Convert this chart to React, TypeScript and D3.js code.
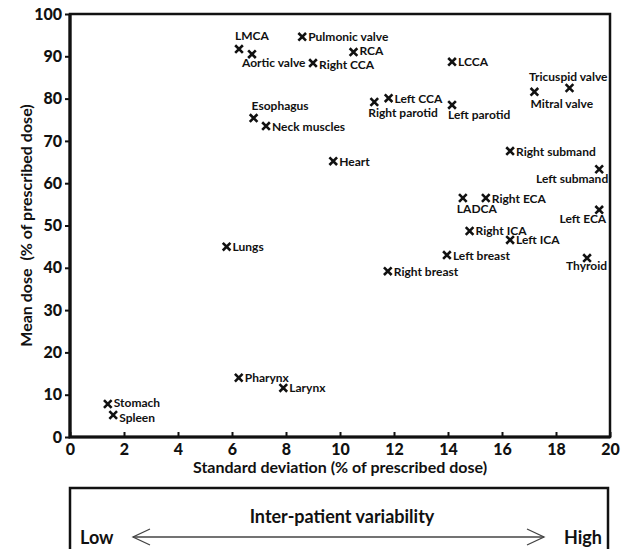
import React, { useEffect, useRef } from 'react';
import * as d3 from 'd3';

// organ names, SD and mean dose (% of prescribed dose)
const organs = [
  'LMCA', 'Aortic valve', 'Pulmonic valve', 'RCA', 'Right CCA', 'LCCA',
  'Left CCA', 'Right parotid', 'Left parotid', 'Tricuspid valve', 'Mitral valve',
  'Esophagus', 'Neck muscles', 'Heart', 'Right submand', 'Left submand',
  'LADCA', 'Right ECA', 'Left ECA', 'Right ICA', 'Left ICA', 'Left breast',
  'Thyroid', 'Right breast', 'Lungs', 'Pharynx', 'Larynx', 'Stomach', 'Spleen',
];
const sdValues = [
  6.26, 6.74, 8.6, 10.5, 9.0, 14.15,
  11.8, 11.27, 14.15, 18.5, 17.2,
  6.8, 7.26, 9.75, 16.3, 19.6,
  14.55, 15.4, 19.6, 14.8, 16.3, 13.96,
  19.15, 11.77, 5.8, 6.25, 7.9, 1.4, 1.6,
];
const meanDose = [
  91.7, 90.5, 94.6, 91.0, 88.4, 88.7,
  80.1, 79.2, 78.5, 82.5, 81.6,
  75.4, 73.5, 65.2, 67.6, 63.3,
  56.5, 56.5, 53.7, 48.7, 46.6, 43.0,
  42.3, 39.2, 45.0, 14.0, 11.6, 7.8, 5.2,
];
const xTicks = [0, 2, 4, 6, 8, 10, 12, 14, 16, 18, 20];
const yTicks = [0, 10, 20, 30, 40, 50, 60, 70, 80, 90, 100];

// labels that are not simply put to the right of their marker
const labelOffsets: Record<string, [number, number, string]> = {
  'LMCA': [-4, -9, 'start'],
  'Aortic valve': [-10, 13, 'start'],
  'RCA': [6, 3, 'start'],
  'Right CCA': [6, 5.5, 'start'],
  'Right parotid': [-6, 15, 'start'],
  'Left parotid': [-4, 14, 'start'],
  'Tricuspid valve': [38, -7, 'end'],
  'Mitral valve': [-4, 16, 'start'],
  'Esophagus': [-2, -8, 'start'],
  'Left submand': [9, 14, 'end'],
  'LADCA': [-6, 15, 'start'],
  'Left ECA': [7, 13, 'end'],
  'Thyroid': [20, 12, 'end'],
  'Stomach': [6, 2.5, 'start'],
  'Spleen': [6, 6.5, 'start'],
};

const FONT = 'Lato, "Open Sans", sans-serif';

export default function App() {
  const svgRef = useRef<SVGSVGElement>(null);

  useEffect(() => {
    const svg = d3.select(svgRef.current);
    svg.selectAll('*').remove();

    const left = 70, right = 610, top = 14, bottom = 437;
    const x = d3.scaleLinear().domain([0, 20]).range([left, right]);
    const y = d3.scaleLinear().domain([0, 100]).range([bottom, top]);

    const g = svg.append('g').style('font-family', FONT);

    // x axis, ticks pointing inward
    const xAxis = g.append('g')
      .attr('transform', 'translate(0,' + bottom + ')')
      .call(d3.axisBottom(x).tickValues(xTicks).tickSizeInner(-5).tickSizeOuter(0).tickPadding(7));
    xAxis.select('.domain').remove();
    xAxis.selectAll('line').attr('stroke', '#111').attr('stroke-width', 2);
    xAxis.selectAll('text')
      .attr('fill', '#111').style('font-size', '16px').style('font-weight', 900).style('font-family', FONT);

    // y axis, ticks pointing outward
    const yAxis = g.append('g')
      .attr('transform', 'translate(' + left + ',0)')
      .call(d3.axisLeft(y).tickValues(yTicks).tickSizeInner(5).tickSizeOuter(0).tickPadding(3));
    yAxis.select('.domain').remove();
    yAxis.selectAll('line').attr('stroke', '#111').attr('stroke-width', 2);
    yAxis.selectAll('text')
      .attr('fill', '#111').style('font-size', '16px').style('font-weight', 900).style('font-family', FONT);

    // frame
    g.append('rect')
      .attr('x', left).attr('y', top)
      .attr('width', right - left).attr('height', bottom - top)
      .attr('fill', 'none').attr('stroke', '#111').attr('stroke-width', 2.5);
    g.append('path')
      .attr('d', 'M' + left + ',' + top + 'V' + bottom + 'H' + right)
      .attr('fill', 'none').attr('stroke', '#111').attr('stroke-width', 3.2);

    // axis titles
    g.append('text')
      .attr('x', (left + right) / 2).attr('y', 473)
      .attr('text-anchor', 'middle')
      .attr('fill', '#111')
      .style('font-size', '16px').style('font-weight', 700)
      .text('Standard deviation (% of prescribed dose)');
    g.append('text')
      .attr('transform', 'translate(32,' + (top + bottom) / 2 + ') rotate(-90)')
      .attr('text-anchor', 'middle')
      .attr('fill', '#111')
      .style('font-size', '16px').style('font-weight', 700)
      .style('white-space', 'pre')
      .text('Mean dose  (% of prescribed dose)');

    // markers and labels
    const data = organs.map((name, i) => ({ name, sd: sdValues[i], mean: meanDose[i] }));
    const cross = d3.symbol().type(d3.symbolX).size(40);

    const pts = g.append('g').selectAll('g').data(data).enter().append('g')
      .attr('transform', d => 'translate(' + x(d.sd) + ',' + y(d.mean) + ')');
    pts.append('path')
      .attr('d', cross() as string)
      .attr('fill', 'none').attr('stroke', '#111').attr('stroke-width', 2.6);
    pts.append('text')
      .attr('x', d => (labelOffsets[d.name] ? labelOffsets[d.name][0] : 6))
      .attr('y', d => (labelOffsets[d.name] ? labelOffsets[d.name][1] : 4.5))
      .attr('text-anchor', d => (labelOffsets[d.name] ? labelOffsets[d.name][2] : 'start'))
      .attr('fill', '#111')
      .style('font-size', '12px').style('font-weight', 700)
      .text(d => d.name);

    // variability box underneath
    const boxTop = 488;
    g.append('rect')
      .attr('x', left).attr('y', boxTop)
      .attr('width', 608 - left).attr('height', 80)
      .attr('fill', 'none').attr('stroke', '#111').attr('stroke-width', 2.5);
    g.append('text')
      .attr('x', 342).attr('y', 523)
      .attr('text-anchor', 'middle').attr('fill', '#111')
      .style('font-size', '18px').style('font-weight', 700)
      .text('Inter-patient variability');
    g.append('text')
      .attr('x', 80).attr('y', 544)
      .attr('fill', '#111')
      .style('font-size', '18px').style('font-weight', 700)
      .text('Low');
    g.append('text')
      .attr('x', 602).attr('y', 544)
      .attr('text-anchor', 'end').attr('fill', '#111')
      .style('font-size', '18px').style('font-weight', 700)
      .text('High');

    const ay = 537, ax0 = 133, ax1 = 544;
    g.append('line')
      .attr('x1', ax0).attr('x2', ax1).attr('y1', ay).attr('y2', ay)
      .attr('stroke', '#444').attr('stroke-width', 1.5);
    g.append('path')
      .attr('d', 'M' + (ax0 + 17) + ',' + (ay - 8) + 'L' + ax0 + ',' + ay + 'L' + (ax0 + 17) + ',' + (ay + 8))
      .attr('fill', 'none').attr('stroke', '#444').attr('stroke-width', 1.3);
    g.append('path')
      .attr('d', 'M' + (ax1 - 17) + ',' + (ay - 8) + 'L' + ax1 + ',' + ay + 'L' + (ax1 - 17) + ',' + (ay + 8))
      .attr('fill', 'none').attr('stroke', '#444').attr('stroke-width', 1.3);
  }, []);

  return (
    <svg
      ref={svgRef}
      width={630}
      height={549}
      style={{ position: 'absolute', left: 0, top: 0, background: '#fff' }}
    />
  );
}
